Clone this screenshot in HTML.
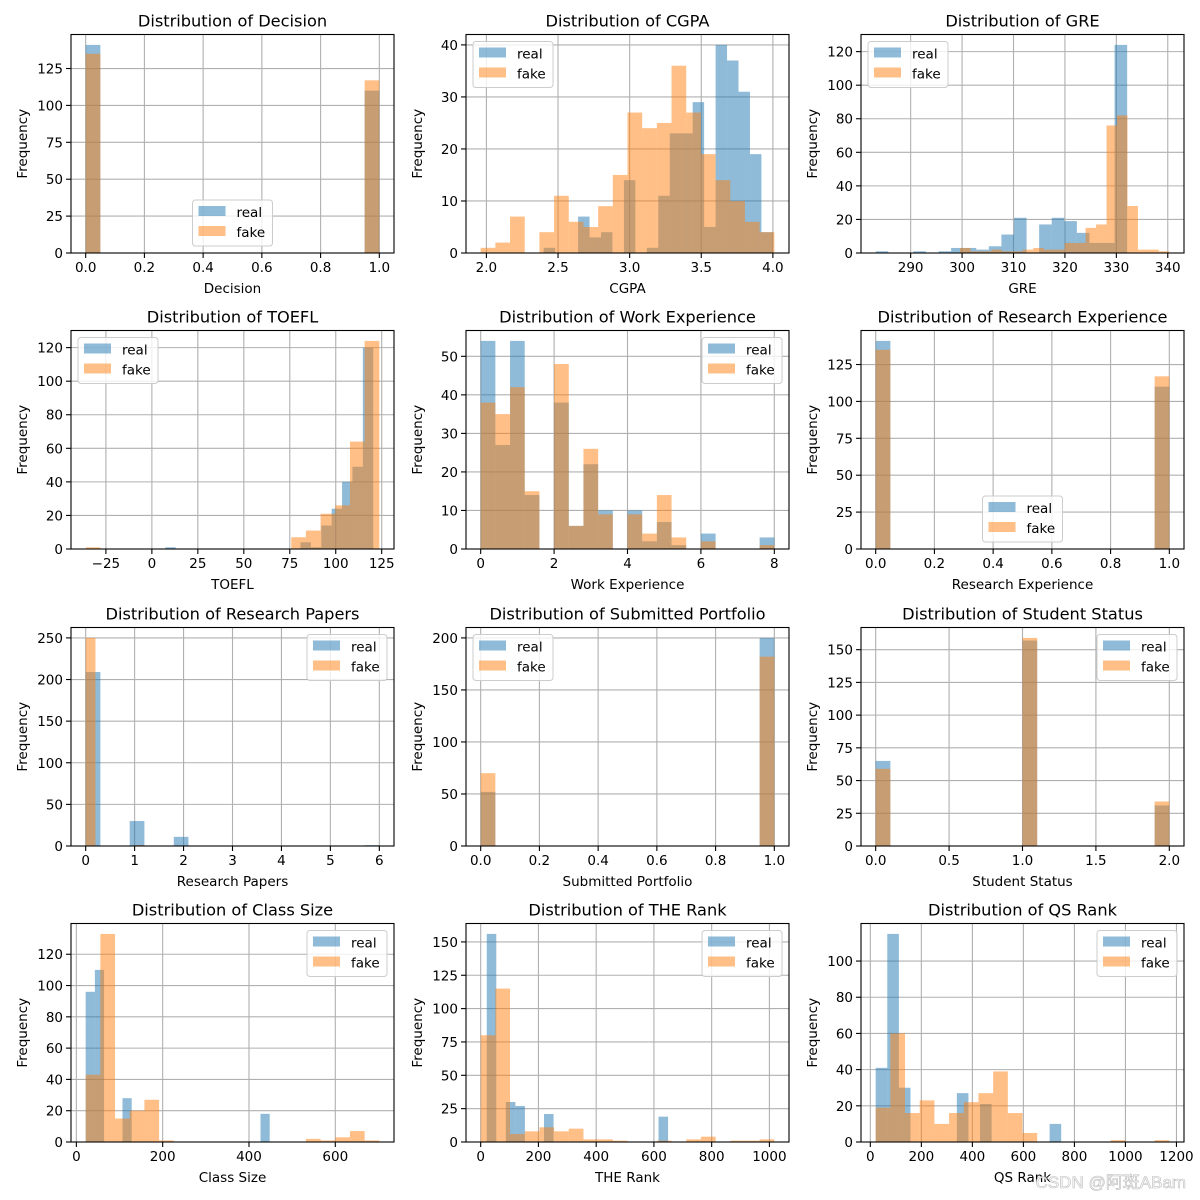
<!DOCTYPE html>
<html><head><meta charset="utf-8"><style>
html,body{margin:0;padding:0;background:#fff;}
svg{display:block;font-family:"DejaVu Sans","Liberation Sans",sans-serif;}
</style></head><body>
<svg id="fig" width="1200" height="1200" viewBox="0 0 1200 1200" xmlns="http://www.w3.org/2000/svg"></svg>
<script>
const decisionReal=[141,0,0,0,0,0,0,0,0,0,0,0,0,0,0,0,0,0,0,110];
const decisionFake=[135,0,0,0,0,0,0,0,0,0,0,0,0,0,0,0,0,0,0,117];
const cgpaReal=[1,0,0,7,3,4,0,14,0,1,11,23,23,29,5,40,37,31,19,4];
const cgpaFake=[1,2,7,0,4,11,6,5,9,15,27,24,25,36,27,19,14,10,6,4];
const greReal=[1,0,0,1,0,1,3,3,2,4,11,21,0,17,21,19,12,6,6,124];
const greFake=[3,1,1,2,1,1,2,3,2,2,6,6,15,17,76,82,28,2,2,1];
const toeflReal=[1,0,0,0,0,0,0,0,0,0,0,0,0,4,1,14,24,40,49,120];
const toeflFake=[1,0,0,0,0,0,0,0,0,0,0,0,0,0,7,11,21,26,64,124];
const workReal=[54,27,54,14,0,38,6,22,10,0,10,2,7,1,0,4,0,0,0,3];
const workFake=[38,35,42,15,0,48,6,26,9,0,9,4,14,3,0,2,0,0,0,1];
const resExpReal=[141,0,0,0,0,0,0,0,0,0,0,0,0,0,0,0,0,0,0,110];
const resExpFake=[135,0,0,0,0,0,0,0,0,0,0,0,0,0,0,0,0,0,0,117];
const papersReal=[209,0,0,30,0,0,11,0,0,0,0,0,0,0,0,0,0,0,0,1];
const papersFake=[250,0,0,0,0,1,0,0,0,0,0,0,0,0,0,0,0,0,0,0];
const portfolioReal=[52,0,0,0,0,0,0,0,0,0,0,0,0,0,0,0,0,0,0,200];
const portfolioFake=[70,0,0,0,0,0,0,0,0,0,0,0,0,0,0,0,0,0,0,182];
const studentReal=[65,0,0,0,0,0,0,0,0,0,157,0,0,0,0,0,0,0,0,31];
const studentFake=[59,0,0,0,0,0,0,0,0,0,159,0,0,0,0,0,0,0,0,34];
const classReal=[96,110,0,0,28,0,0,0,0,0,0,0,0,0,0,0,0,0,0,18];
const classFake=[43,133,15,20,27,1,0,0,0,0,0,0,0,0,0,2,1,3,7,1];
const theReal=[156,0,30,27,0,0,21,0,0,0,0,0,0,0,0,0,0,0,19,0];
const theFake=[80,115,6,8,11,8,10,2,2,1,0,0,1,0,2,4,0,1,1,2];
const qsReal=[41,115,30,0,0,0,0,27,0,21,0,0,0,0,0,10,0,0,0,0];
const qsFake=[19,60,16,23,10,16,22,27,39,16,5,0,0,0,0,0,1,0,0,1];
const realRanges=[[0,1],[2.40,4.0],[283.2,332.1],[7.3,120.4],[0,8],[0,1],[0,6],[0,1],[0,2],[21.6,448],[21,682],[21,930]];
const fakeRanges=[[0,1],[1.96,4.01],[299.6,340.3],[-36,123.7],[0,8],[0,1],[0,4],[0,1],[0,2],[21.6,702],[0,1017],[21,1172]];
const titles=["Decision","CGPA","GRE","TOEFL","Work Experience","Research Experience","Research Papers","Submitted Portfolio","Student Status","Class Size","THE Rank","QS Rank"];
const xTicks=[[0,0.2,0.4,0.6,0.8,1.0],[2.0,2.5,3.0,3.5,4.0],[290,300,310,320,330,340],[-25,0,25,50,75,100,125],[0,2,4,6,8],[0,0.2,0.4,0.6,0.8,1.0],[0,1,2,3,4,5,6],[0,0.2,0.4,0.6,0.8,1.0],[0,0.5,1.0,1.5,2.0],[0,200,400,600],[0,200,400,600,800,1000],[0,200,400,600,800,1000,1200]];
const xDec=[1,1,0,0,0,1,0,1,1,0,0,0];
const yTicks=[[0,25,50,75,100,125],[0,10,20,30,40],[0,20,40,60,80,100,120],[0,20,40,60,80,100,120],[0,10,20,30,40,50],[0,25,50,75,100,125],[0,50,100,150,200,250],[0,50,100,150,200],[0,25,50,75,100,125,150],[0,20,40,60,80,100,120],[0,25,50,75,100,125,150],[0,20,40,60,80,100]];
const legendPos=["lc","ul","ul","ul","ur","lc","ur","ul","ur","ur","ur","ur"];
const reals=[decisionReal,cgpaReal,greReal,toeflReal,workReal,resExpReal,papersReal,portfolioReal,studentReal,classReal,theReal,qsReal];
const fakes=[decisionFake,cgpaFake,greFake,toeflFake,workFake,resExpFake,papersFake,portfolioFake,studentFake,classFake,theFake,qsFake];

const NS="http://www.w3.org/2000/svg";
const fig=document.getElementById('fig');
function mk(tag,attrs,parent,text){const e=document.createElementNS(NS,tag);for(const k in attrs)e.setAttribute(k,attrs[k]);if(text!==undefined)e.textContent=text;parent.appendChild(e);return e;}
const colLeft=[71,466,861], colW=323, rowBottom=[253,549,846,1142], axH=218.5;

for(let p=0;p<12;p++){
  const r=Math.floor(p/3), c=p%3;
  const L=colLeft[c], R=L+colW, B=rowBottom[r], T=B-axH;
  const g=mk('g',{},fig);
  
  
  const real=reals[p], fake=fakes[p];
  const lo=Math.min(realRanges[p][0],fakeRanges[p][0]), hi=Math.max(realRanges[p][1],fakeRanges[p][1]);
  const pad=(hi-lo)*0.05, x0=lo-pad, x1=hi+pad;
  const ymax=Math.max(Math.max(...real),Math.max(...fake))*1.05;
  const sx=v=>L+(v-x0)/(x1-x0)*(R-L);
  const sy=v=>B-v/ymax*(B-T);
  xTicks[p].forEach(t=>{const x=sx(t);const l=mk('line',{x1:x,x2:x,y1:T,y2:B,stroke:'#b0b0b0','stroke-width':1.1},g);});
  yTicks[p].forEach(t=>{const y=sy(t);const l=mk('line',{x1:L,x2:R,y1:y,y2:y,stroke:'#b0b0b0','stroke-width':1.1},g);});
  [[real,realRanges[p],'#1f77b4','real'],[fake,fakeRanges[p],'#ff7f0e','fake']].forEach(([vals,rng,col,nm])=>{
    const w=(rng[1]-rng[0])/vals.length;
    vals.forEach((v,i)=>{if(v<=0)return;const xa=sx(rng[0]+i*w), xb=sx(rng[0]+(i+1)*w);
      const b=mk('rect',{x:xa,y:sy(v),width:xb-xa,height:B-sy(v),fill:col,'fill-opacity':0.5},g);
      
      });
  });
  const fr=mk('rect',{x:L,y:T,width:R-L,height:B-T,fill:'none',stroke:'#000','stroke-width':1.1},g);
  
  xTicks[p].forEach(t=>{const x=sx(t);mk('line',{x1:x,x2:x,y1:B,y2:B+5,stroke:'#000','stroke-width':1.1},g);
    const tx=mk('text',{x:x,y:B+19,'font-size':13.5,'text-anchor':'middle',fill:'#000'},g,(xDec[p]?t.toFixed(1):String(t)).replace('-','\u2212'));
    });
  yTicks[p].forEach(t=>{const y=sy(t);mk('line',{x1:L-5,x2:L,y1:y,y2:y,stroke:'#000','stroke-width':1.1},g);
    const tx=mk('text',{x:L-8,y:y+5,'font-size':13.5,'text-anchor':'end',fill:'#000'},g,String(t));
    });
  const cx=(L+R)/2;
  const ti=mk('text',{x:cx,y:T-8,'font-size':16.2,'text-anchor':'middle',fill:'#000'},g,'Distribution of '+titles[p]);
  
  const xl=mk('text',{x:cx,y:B+40,'font-size':13.5,'text-anchor':'middle',fill:'#000'},g,titles[p]);
  
  const yx=L-44, yc=(T+B)/2;
  const yl=mk('text',{x:yx,y:yc,'font-size':13.5,'text-anchor':'middle',fill:'#000',transform:`rotate(-90 ${yx} ${yc})`},g,'Frequency');
  
  let lx,ly;const lw=80,lh=46;
  if(legendPos[p]==='ul'){lx=L+7;ly=T+7;}else if(legendPos[p]==='ur'){lx=R-7-lw;ly=T+7;}else{lx=cx-lw/2;ly=B-7-lh;}
  const lg=mk('g',{},g);
  
  
  mk('rect',{x:lx,y:ly,width:lw,height:lh,rx:3,fill:'#fff','fill-opacity':0.8,stroke:'#cccccc','stroke-width':1},lg);
  [['real','#1f77b4'],['fake','#ff7f0e']].forEach(([nm,col],i)=>{
    const e=mk('g',{},lg);
    
    
    mk('rect',{x:lx+6,y:ly+6+i*20,width:27,height:10,fill:col,'fill-opacity':0.5},e);
    mk('text',{x:lx+44,y:ly+17+i*20,'font-size':13.5,fill:'#000'},e,nm);
  });
}
const wm=mk('text',{x:1186,y:1188,'font-size':17,'text-anchor':'end',fill:'#ffffff','fill-opacity':0.85,stroke:'#bbbbbb','stroke-width':0.6,'font-family':'"Liberation Sans","Noto Sans CJK SC",sans-serif'},fig,'CSDN @阿斑ABam');


</script>
</body></html>
